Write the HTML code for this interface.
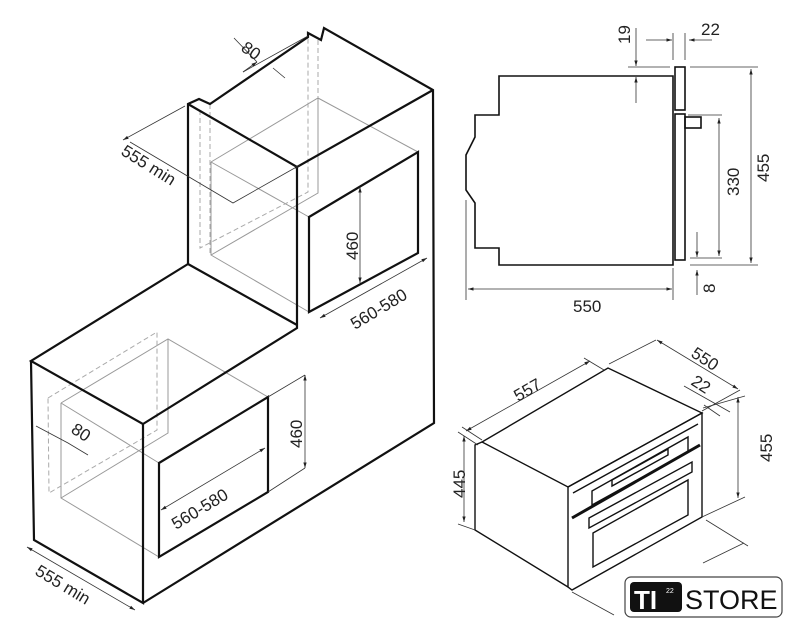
<!DOCTYPE html>
<html><head><meta charset="utf-8"><style>
html,body{margin:0;padding:0;background:#fff;}
svg{display:block;}
text{font-family:"Liberation Sans",sans-serif;fill:#222;}
</style></head><body>
<svg width="792" height="640" viewBox="0 0 792 640" xmlns="http://www.w3.org/2000/svg">
<defs>
<marker id="a" viewBox="0 0 10 10" refX="10" refY="5" markerWidth="7" markerHeight="7" orient="auto-start-reverse"><path d="M0,2 L10,5 L0,8 z" fill="#222"/></marker>
</defs>
<g stroke="#999" stroke-width="1" fill="none">
<path d="M211,162 L318,98 L418,152 M211,162 L211,255 L309,312 M211,162 L309,217 M211,255 L318,193 L318,98"/>
<path d="M61,403 L168,339 L268,397 M61,403 L61,498 L159,557 M61,403 L159,463 M61,498 L168,433 L168,339"/>
</g>
<g stroke="#aaa" stroke-width="1" fill="none" stroke-dasharray="5,3">
<path d="M200,110 L200,248 L308,192 L308,37 M318,40 L318,98 M210,104 L210,255"/>
<path d="M48,398 L157,332 L157,430 L49,493 L48,398"/>
</g>
<g stroke="#111" stroke-width="2.2" fill="none" stroke-linejoin="miter">
<path d="M188,264 L188,104 L199,99 L210,104 L308,37 L308,33 L321,40 L324,28 L433,90 L434,423 L143,603"/>
<path d="M188,104 L297,167 L433,90 M297,167 L297,328 L143,424 M188,264 L297,325"/>
<path d="M188,264 L31,361 L143,424 L143,603 L34,540 L31,361"/>
<path d="M309,217 L418,152 L418,253 L309,312 Z"/>
<path d="M159,463 L268,397 L268,492 L159,557 Z"/>
</g>
<g stroke="#333" stroke-width="0.8" fill="none">
<path d="M234,38 L257,62 M243,72 L308,36 M273,68 L285,78"/>
<path d="M243,72 L257,62" marker-end="url(#a)"/>
<path d="M123,140 L185,106 M130,142 L233,203 L300,165" marker-start="url(#a)" marker-end="url(#a)"/>
<path d="M360,187 L360,283" marker-start="url(#a)" marker-end="url(#a)"/>
<path d="M320,318 L427,258" marker-start="url(#a)" marker-end="url(#a)"/>
<path d="M305,375 L305,468" marker-start="url(#a)" marker-end="url(#a)"/>
<path d="M268,397 L305,375 M268,492 L305,468"/>
<path d="M161,510 L265,448" marker-start="url(#a)" marker-end="url(#a)"/>
<path d="M36,426 L68,443 L88,455"/>
<path d="M27,547 L135,610" marker-start="url(#a)" marker-end="url(#a)"/>
</g>
<g font-size="17">
<text transform="translate(240,50) rotate(35)">80</text>
<text transform="translate(120,154) rotate(32)">555 min</text>
<text transform="translate(358,260) rotate(-90)">460</text>
<text transform="translate(355,330) rotate(-31)">560-580</text>
<text transform="translate(302,448) rotate(-90)">460</text>
<text transform="translate(176,530) rotate(-31)">560-580</text>
<text transform="translate(70,432) rotate(33)">80</text>
<text transform="translate(34,574) rotate(31)">555 min</text>
</g>
<g stroke="#111" stroke-width="1.6" fill="none">
<path d="M499,76 L673,76 L673,265 L499,265 L499,248 L475,248 L475,203 L466,190 L466,155 L475,137 L475,115 L499,115 Z"/>
<rect x="675" y="67" width="10" height="43"/>
<rect x="675" y="114" width="10" height="146"/>
<rect x="685" y="117" width="16" height="11"/>
</g>
<g stroke="#333" stroke-width="0.8" fill="none">
<path d="M466,200 L466,300 M673,268 L673,300" />
<path d="M468,289 L672,289" marker-start="url(#a)" marker-end="url(#a)"/>
<path d="M690,67 L758,67 M690,265 L758,265" />
<path d="M751,69 L751,263" marker-start="url(#a)" marker-end="url(#a)"/>
<path d="M688,115 L722,115 M690,258 L722,258" />
<path d="M719,118 L719,256" marker-start="url(#a)" marker-end="url(#a)"/>
<path d="M628,67 L670,67 M636,28 L636,66" marker-end="url(#a)"/>
<path d="M636,103 L636,77" marker-end="url(#a)"/>
<path d="M646,40 L672,40" marker-end="url(#a)"/>
<path d="M712,40 L689,40" marker-end="url(#a)"/>
<path d="M673,33 L673,60 M685,33 L685,60"/>
<path d="M697,232 L697,257" marker-end="url(#a)"/>
<path d="M697,295 L697,270" marker-end="url(#a)"/>
</g>
<g font-size="17">
<text x="573" y="312">550</text>
<text transform="translate(769,182) rotate(-90)">455</text>
<text transform="translate(739,196) rotate(-90)">330</text>
<text transform="translate(630,44) rotate(-90)">19</text>
<text x="701" y="35">22</text>
<text transform="translate(715,293) rotate(-90)">8</text>
</g>
<g stroke="#111" stroke-width="1.4" fill="none">
<path d="M482,442 L608,368 L702,413 L568,487 Z"/>
<path d="M482,442 L475,445 L475,530 L568,587"/>
<path d="M568,487 L702,413 L702,517 L572,590 L568,587 Z"/>
<path d="M573,493 L698,424"/>
<path d="M592,491 L688,437 L688,452 L592,505 Z"/>
<path d="M612,480 L668,449 L668,455 L612,486 Z"/>
<path d="M589,518 L692,462 L692,472 L589,528 Z"/>
<path d="M593,533 L688,480 L688,515 L593,567 Z"/>
</g>
<path d="M572,518 L700,445" stroke="#111" stroke-width="3"/>
<g stroke="#333" stroke-width="0.8" fill="none">
<path d="M466,431 L590,361" marker-start="url(#a)" marker-end="url(#a)"/>
<path d="M462,427 L482,440 M584,358 L604,370 M609,364 L656,340"/>
<path d="M657,340 L738,389" marker-start="url(#a)" marker-end="url(#a)"/>
<path d="M702,411 L740,390 M684,386 L730,412 M704,405 L720,416" />
<path d="M738,397 L738,498" marker-start="url(#a)" marker-end="url(#a)"/>
<path d="M703,408 L745,396 M702,517 L745,497"/>
<path d="M464,436 L464,522" marker-start="url(#a)" marker-end="url(#a)"/>
<path d="M458,432 L478,445 M458,524 L475,530"/>
<path d="M706,520 L748,546 M703,563 L744,543 M572,592 L614,615"/>
</g>
<g font-size="17">
<text transform="translate(518,402) rotate(-30)">557</text>
<text transform="translate(690,356) rotate(33)">550</text>
<text transform="translate(690,384) rotate(33)">22</text>
<text transform="translate(772,462) rotate(-90)">455</text>
<text transform="translate(465,498) rotate(-90)">445</text>
</g>
<rect x="625" y="577" width="157" height="40" rx="6" fill="#fff" stroke="#444" stroke-width="1.2"/>
<rect x="630" y="582" width="52" height="30" rx="4" fill="#111"/>
<text x="634" y="609" font-size="26" font-weight="bold" style="fill:#fff">TI</text>
<text x="666" y="593" font-size="7" style="fill:#fff">22</text>
<text x="685" y="609" font-size="27" style="fill:#111">STORE</text>
</svg>
</body></html>
